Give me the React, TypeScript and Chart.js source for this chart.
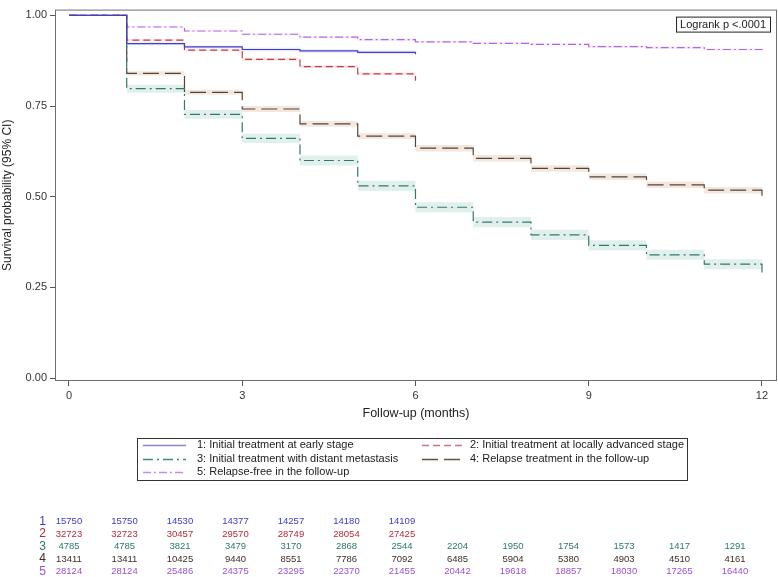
import React, { useEffect, useRef } from "react";
import { Chart, registerables } from "chart.js";

Chart.register(...registerables);

// ---------- data ----------
const months = [0, 1, 2, 3, 4, 5, 6, 7, 8, 9, 10, 11, 12];
const xTicks = [0, 3, 6, 9, 12];
const yTicks = [0, 0.25, 0.5, 0.75, 1];

const groupLabels = [
  "1: Initial treatment at early stage",
  "2: Initial treatment at locally advanced stage",
  "3: Initial treatment with distant metastasis",
  "4: Relapse treatment in the follow-up",
  "5: Relapse-free in the follow-up",
];
const groupIds = ["1", "2", "3", "4", "5"];

// survival estimate holding from month k (value at index k), last value = final drop
const surv1 = [1.0, 0.922, 0.913, 0.906, 0.902, 0.898, 0.893];
const surv2 = [1.0, 0.932, 0.904, 0.879, 0.859, 0.839, 0.82];
const surv3 = [1.0, 0.798, 0.727, 0.661, 0.6, 0.53, 0.471, 0.43, 0.395, 0.366, 0.34, 0.314, 0.289];
const surv4 = [1.0, 0.84, 0.788, 0.742, 0.701, 0.667, 0.634, 0.606, 0.578, 0.555, 0.533, 0.518, 0.503];
const surv5 = [1.0, 0.968, 0.957, 0.948, 0.94, 0.933, 0.927, 0.923, 0.92, 0.914, 0.911, 0.906, 0.904];

// 95% CI half widths
const ci1 = [0, 0.004, 0.004, 0.005, 0.005, 0.005, 0.005];
const ci2 = [0, 0.003, 0.003, 0.004, 0.004, 0.004, 0.004];
const ci3 = [0, 0.011, 0.012, 0.013, 0.014, 0.014, 0.014, 0.014, 0.014, 0.014, 0.014, 0.014, 0.014];
const ci4 = [0, 0.006, 0.007, 0.008, 0.008, 0.008, 0.009, 0.009, 0.009, 0.009, 0.009, 0.009, 0.009];
const ci5 = [0, 0.002, 0.002, 0.003, 0.003, 0.003, 0.003, 0.003, 0.003, 0.003, 0.003, 0.003, 0.003];

// numbers at risk
const atRisk1 = [15750, 15750, 14530, 14377, 14257, 14180, 14109];
const atRisk2 = [32723, 32723, 30457, 29570, 28749, 28054, 27425];
const atRisk3 = [4785, 4785, 3821, 3479, 3170, 2868, 2544, 2204, 1950, 1754, 1573, 1417, 1291];
const atRisk4 = [13411, 13411, 10425, 9440, 8551, 7786, 7092, 6485, 5904, 5380, 4903, 4510, 4161];
const atRisk5 = [28124, 28124, 25486, 24375, 23295, 22370, 21455, 20442, 19618, 18857, 18030, 17265, 16440];

const logrankText = "Logrank p <.0001";
const xTitle = "Follow-up (months)";
const yTitle = "Survival probability (95% CI)";

// ---------- styles ----------
const FONT = "'Liberation Sans', Arial, sans-serif";
const lineColors = ["#4040c8", "#c33a4c", "#2f7a6a", "#5a4230", "#b066e4"];
const legendColors = ["#8a84d4", "#d07080", "#3f8a7a", "#6a5240", "#c58ae8"];
const bandColors = [
  "rgba(110,110,220,0.16)",
  "rgba(215,110,120,0.16)",
  "rgba(70,160,140,0.16)",
  "rgba(200,150,110,0.22)",
  "rgba(180,110,230,0.12)",
];
const tableColors = ["#3b3bcc", "#b8283c", "#2a7a68", "#3a3026", "#9a50d8"];
const dashes: number[][] = [[], [7, 4], [10, 4, 2, 4], [16, 6], [8, 3, 2, 3]];

const survs = [surv1, surv2, surv3, surv4, surv5];
const cis = [ci1, ci2, ci3, ci4, ci5];
const atRisks = [atRisk1, atRisk2, atRisk3, atRisk4, atRisk5];

const toPts = (vals: number[]) => vals.map((v, i) => ({ x: months[i], y: v }));

export default function App() {
  const ref = useRef<HTMLCanvasElement | null>(null);

  useEffect(() => {
    if (!ref.current) return;
    const lineSets = survs.map((s, g) => ({
      label: groupLabels[g],
      data: toPts(s),
      borderColor: lineColors[g],
      borderWidth: 1.2,
      borderDash: dashes[g],
      pointRadius: 0,
      stepped: "before" as const,
      fill: false,
    }));
    const bandSets: any[] = [];
    survs.forEach((s, g) => {
      bandSets.push({
        label: "upper" + g,
        data: toPts(s.map((v, i) => Math.min(1, v + cis[g][i]))),
        borderWidth: 0,
        borderColor: "rgba(0,0,0,0)",
        backgroundColor: bandColors[g],
        pointRadius: 0,
        stepped: "before" as const,
        fill: "+1",
      });
      bandSets.push({
        label: "lower" + g,
        data: toPts(s.map((v, i) => v - cis[g][i])),
        borderWidth: 0,
        borderColor: "rgba(0,0,0,0)",
        pointRadius: 0,
        stepped: "before" as const,
        fill: false,
      });
    });

    const framePlugin = {
      id: "frame",
      afterDraw(chart: any) {
        const { ctx, chartArea: a } = chart;
        ctx.save();
        ctx.strokeStyle = "#6e6e6e";
        ctx.lineWidth = 1;
        ctx.strokeRect(a.left + 0.5, a.top + 0.5, a.right - a.left - 1, a.bottom - a.top - 1);
        // logrank box
        ctx.font = `11px ${FONT}`;
        const tw = ctx.measureText(logrankText).width;
        const bx1 = a.right - 7;
        const bx0 = bx1 - tw - 8;
        const by0 = a.top + 7;
        ctx.fillStyle = "#fff";
        ctx.fillRect(bx0, by0, bx1 - bx0, 15);
        ctx.strokeStyle = "#222";
        ctx.strokeRect(bx0 + 0.5, by0 + 0.5, bx1 - bx0, 15);
        ctx.fillStyle = "#222";
        ctx.textBaseline = "middle";
        ctx.textAlign = "left";
        ctx.fillText(logrankText, bx0 + 4, by0 + 8);
        ctx.restore();
      },
    };

    const legendPlugin = {
      id: "kmLegend",
      afterDraw(chart: any) {
        const { ctx } = chart;
        const box = { l: 137, t: 438, r: 687, b: 480 };
        ctx.save();
        ctx.strokeStyle = "#333";
        ctx.lineWidth = 1;
        ctx.strokeRect(box.l + 0.5, box.t + 0.5, box.r - box.l, box.b - box.t);
        const rowsY = [445, 459, 472];
        ctx.font = `11px ${FONT}`;
        const col2W = Math.max(
          ...groupLabels.filter((_, g) => g % 2 === 1).map((l) => ctx.measureText(l).width)
        );
        const t2 = box.r - 3 - col2W;
        const cols = [
          { s0: 143, s1: 186, t: 197 },
          { s0: t2 - 48, s1: t2 - 8, t: t2 },
        ];
        ctx.textBaseline = "middle";
        ctx.textAlign = "left";
        groupLabels.forEach((lab, g) => {
          const c = cols[g % 2];
          const y = rowsY[Math.floor(g / 2)];
          ctx.strokeStyle = legendColors[g];
          ctx.lineWidth = 1.3;
          ctx.setLineDash(dashes[g]);
          ctx.beginPath();
          ctx.moveTo(c.s0, y + 0.5);
          ctx.lineTo(c.s1, y + 0.5);
          ctx.stroke();
          ctx.setLineDash([]);
          ctx.fillStyle = "#222";
          ctx.fillText(lab, c.t, y);
        });
        ctx.restore();
      },
    };

    const tablePlugin = {
      id: "atRisk",
      afterDraw(chart: any) {
        const { ctx, scales } = chart;
        const xs = scales.x;
        const x0 = xs.getPixelForValue(0);
        const step = (xs.getPixelForValue(1) - x0) * 0.961;
        const rowsY = [521.5, 534, 546.5, 559, 571.5];
        ctx.save();
        ctx.textBaseline = "middle";
        ctx.textAlign = "center";
        atRisks.forEach((row, g) => {
          ctx.fillStyle = tableColors[g];
          ctx.font = `12px ${FONT}`;
          ctx.fillText(groupIds[g], 42.5, rowsY[g]);
          ctx.font = `9.5px ${FONT}`;
          row.forEach((n, i) => {
            ctx.fillText(String(n), x0 + months[i] * step, rowsY[g]);
          });
        });
        ctx.restore();
      },
    };

    const chart = new Chart(ref.current, {
      type: "line",
      data: { datasets: [...lineSets, ...bandSets] },
      options: {
        animation: false,
        responsive: false,
        maintainAspectRatio: false,
        layout: { padding: { left: 0, top: 1, right: 1, bottom: 152 } },
        plugins: {
          legend: { display: false },
          tooltip: { enabled: false },
        },
        elements: { line: { tension: 0 } },
        scales: {
          x: {
            type: "linear",
            min: -0.242,
            max: 12.26,
            afterBuildTicks: (s: any) => {
              s.ticks = xTicks.map((v) => ({ value: v }));
            },
            afterFit: (s: any) => {
              s.height = 44;
            },
            border: { display: false },
            grid: { display: true, drawOnChartArea: false, drawTicks: true, tickLength: 5, color: "#555" },
            ticks: {
              font: { family: FONT, size: 11 },
              color: "#333",
              padding: 3,
              maxRotation: 0,
              callback: (v: any) => String(v),
            },
            title: {
              display: true,
              text: xTitle,
              font: { family: FONT, size: 12.5 },
              color: "#222",
              padding: { top: 0, bottom: 4 },
            },
          },
          y: {
            type: "linear",
            min: -0.008,
            max: 1.016,
            afterBuildTicks: (s: any) => {
              s.ticks = yTicks.map((v) => ({ value: v }));
            },
            afterFit: (s: any) => {
              s.width = 55;
            },
            border: { display: false },
            grid: { display: true, drawOnChartArea: false, drawTicks: true, tickLength: 5, color: "#555" },
            ticks: {
              font: { family: FONT, size: 11 },
              color: "#333",
              padding: 3,
              callback: (v: any) => Number(v).toFixed(2),
            },
            title: {
              display: true,
              text: yTitle,
              font: { family: FONT, size: 12 },
              color: "#222",
              padding: { top: 0, bottom: 0 },
            },
          },
        },
      },
      plugins: [framePlugin, legendPlugin, tablePlugin],
    } as any);
    return () => chart.destroy();
  }, []);

  return (
    <div style={{ position: "fixed", left: 0, top: 0, width: 778, height: 577, background: "#fff" }}>
      <canvas ref={ref} width={778} height={577} style={{ width: 778, height: 577, display: "block" }} />
    </div>
  );
}
